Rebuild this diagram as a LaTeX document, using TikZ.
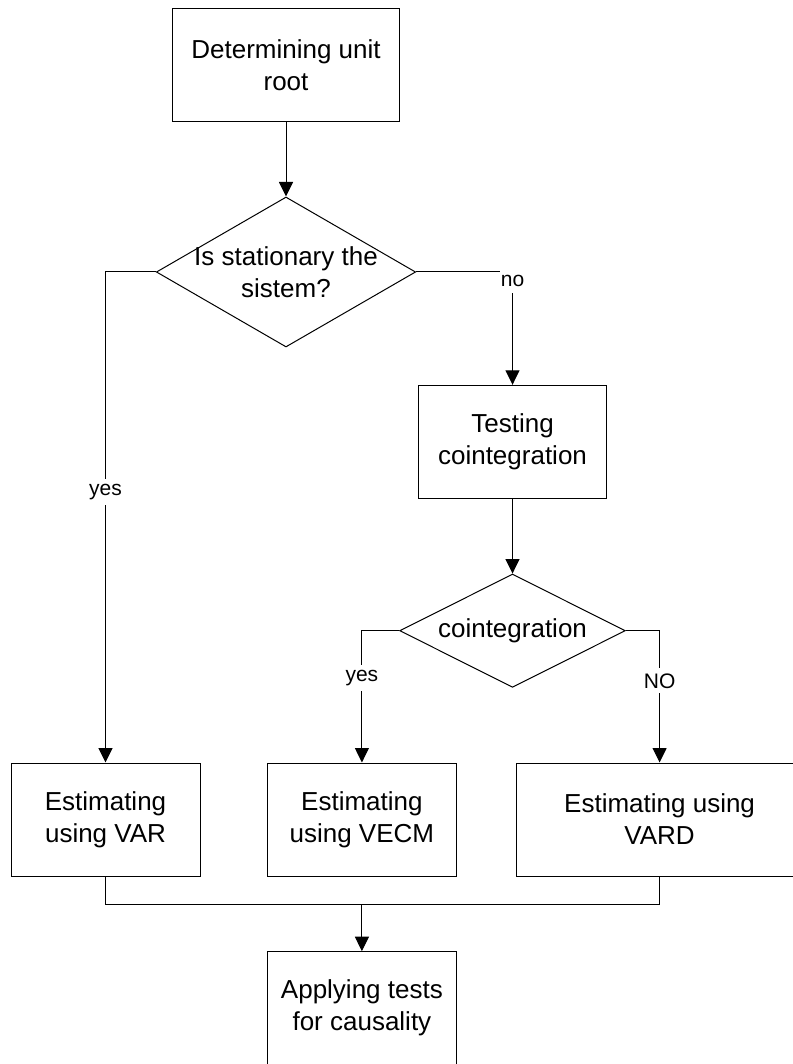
\documentclass[tikz,border=0pt]{standalone}
\usepackage{fontspec}
\setmainfont{Liberation Sans}
\usetikzlibrary{shapes.geometric,arrows.meta}
\begin{document}
\begin{tikzpicture}[x=1pt,y=-1pt,
  txt/.style={align=center,font=\fontsize{26}{32}\selectfont},
  box/.style={draw,line width=1pt,rectangle,minimum width=#1,minimum height=113pt,inner sep=0pt,txt},
  box/.default=188pt,
  dia/.style={draw,line width=1pt,diamond,inner sep=0pt},
  conn/.style={draw,line width=1pt},
  arr/.style={conn,-{Triangle[length=14.5pt,width=14pt]}},
  lbl/.style={fill=white,inner xsep=1pt,inner ysep=5pt,font=\fontsize{21}{25}\selectfont}
]
\useasboundingbox (0,0) rectangle (792,1064);
\fill[white] (0,0) rectangle (792,1064);

\node[box=226.6pt] (top) at (286,64.8) {Determining unit\\root};
\node[dia,minimum width=259.3pt,minimum height=150pt,
      label={[txt]center:Is stationary the\\sistem?}] (d1) at (286,272) {};
\node[box=188.4pt] (test) at (512.5,441.8) {Testing\\cointegration};
\node[dia,minimum width=225.7pt,minimum height=113.3pt,
      label={[txt]center:cointegration}] (d2) at (512.5,630.7) {};

\node[box=189pt] (var) at (105.5,819.5) {Estimating\\using VAR};
\node[box=188.3pt] (vecm) at (361.9,819.5) {Estimating\\using VECM};
\node[box=286.8pt] (vard) at (659.6,819.5) {Estimating using\\VARD};
\node[box=188.7pt] (apply) at (361.9,1008.2) {Applying tests\\for causality};

\coordinate (m) at (361.9,904.3);

\draw[arr] (top.south) -- (d1.north);
\draw[arr] (d1.west) -| node[lbl,pos=0.724]{yes} (var.north);
\draw[arr] (d1.east) -| node[lbl,pos=0.5,yshift=-8.5pt,inner ysep=7pt]{no} (test.north);
\draw[arr] (test.south) -- (d2.north);
\draw[arr] (d2.west) -| node[lbl,pos=0.68]{yes} (vecm.north);
\draw[arr] (d2.east) -| node[lbl,pos=0.69]{NO} (vard.north);

\draw[conn] (var.south) |- (m) -| (vard.south);
\draw[arr] (m) -- (apply.north);
\end{tikzpicture}
\end{document}
